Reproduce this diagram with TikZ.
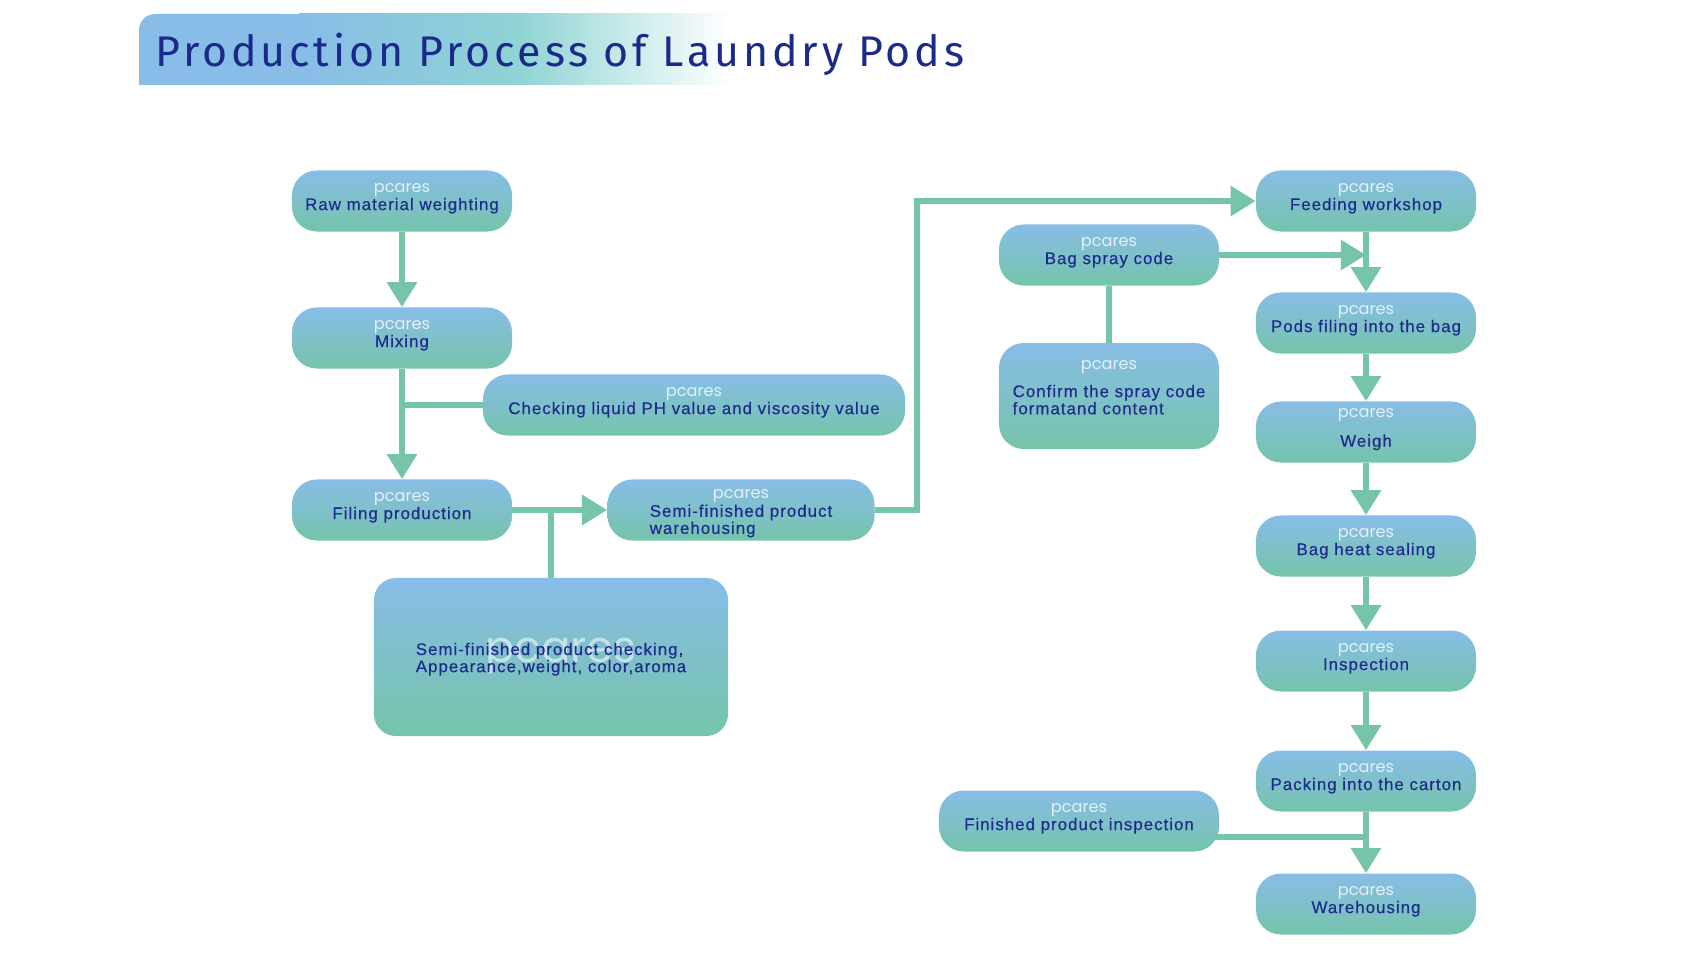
\documentclass[tikz,border=0pt]{standalone}
\usepackage{fontspec}
\setmainfont{Liberation Sans}[LetterSpace=6,FakeBold=0.35]
\newfontfamily\titlefont{Fira Sans}[LetterSpace=9]
\newfontfamily\wmfont{Poppins}
\usetikzlibrary{arrows.meta,positioning}

\definecolor{boxtop}{HTML}{88BDE7}
\definecolor{boxbot}{HTML}{75C4AA}
\definecolor{flowc}{HTML}{77C5A9}
\definecolor{txtc}{HTML}{1E2B8C}
\definecolor{titlec}{HTML}{1B2A8A}
\definecolor{bandteal}{HTML}{8FD3D4}

\renewcommand{\arraystretch}{0.93}
\newcommand{\wm}{{\wmfont\fontsize{11.5}{12}\selectfont\color{white!78!boxtop}pcares}}
\newcommand{\twolines}[1]{\begin{tabular}{@{}l@{}}#1\end{tabular}}

\begin{document}
\begin{tikzpicture}[x=0.025cm,y=-0.025cm,
    box/.style={rounded corners=0.62cm, minimum width=5.5cm, minimum height=1.525cm,
        top color=boxtop, bottom color=boxbot, middle color=boxtop!50!boxbot,
        text=txtc, align=center, inner sep=2pt, text depth=6pt, font=\fontsize{12}{12.5}\selectfont},
    bigbox/.style={box, rounded corners=0.55cm, minimum width=8.85cm, minimum height=3.95cm, text depth=5pt,
        path picture={\node[text=white, opacity=0.55, font=\wmfont\fontsize{31}{31}\selectfont]
            at ([xshift=0.25cm,yshift=0.08cm]path picture bounding box.center) {pcares};}},
    flow/.style={draw=flowc, line width=0.15cm},
    flowa/.style={flow, -{Triangle[length=0.63cm,width=0.73cm]}},
    title/.style={text=titlec, anchor=west, inner sep=0pt, font=\titlefont\fontsize{30.5}{32}\selectfont}]
  \useasboundingbox (0,0) rectangle (1708,966);

  % heading band
  \fill[boxtop, rounded corners=0.4cm] (139,14) rectangle (300,85);
  \fill[boxtop] (139,50) rectangle (300,85);
  \fill[boxtop] (250,14) rectangle (300,85);
  \shade[left color=boxtop, right color=bandteal] (299,14) rectangle (517,85);
  \shade[left color=bandteal, right color=white] (516,14) rectangle (730,85);
  \node[title] (ttl) at (155,54) {Production Process of Laundry Pods};

  % left column
  \node[box] (raw) at (402,201) {\wm\\Raw material weighting};
  \node[box] (mix) at (402,338) {\wm\\Mixing};
  \node[box, minimum width=10.55cm] (chk) at (694,405) {\wm\\Checking liquid PH value and viscosity value};
  \node[box] (fil) at (402,510) {\wm\\Filing production};
  \node[box, minimum width=6.675cm, text depth=3pt] (semi) at (741,510)
      {\wm\\\twolines{Semi-finished product\\warehousing}};
  \node[bigbox] (semichk) at (551,657)
      {\twolines{Semi-finished product checking,\\Appearance,weight, color,aroma}};

  % middle column
  \node[box] (spray) at (1109,255) {\wm\\Bag spray code};
  \node[box, minimum height=2.65cm, text depth=18pt] (conf) at (1109,396)
      {\wm\\[7pt]\twolines{Confirm the spray code\\formatand content}};
  \node[box, minimum width=7cm] (fin) at (1079,821) {\wm\\Finished product inspection};

  % right column
  \node[box] (feed) at (1366,201) {\wm\\Feeding workshop};
  \node[box] (pods) at (1366,323) {\wm\\Pods filing into the bag};
  \node[box] (weigh) at (1366,432) {\wm\\[8pt]Weigh};
  \node[box] (seal) at (1366,546) {\wm\\Bag heat sealing};
  \node[box] (insp) at (1366,661) {\wm\\Inspection};
  \node[box] (pack) at (1366,781) {\wm\\Packing into the carton};
  \node[box] (store) at (1366,904) {\wm\\Warehousing};

  % connectors
  \draw[flowa] (raw) -- (mix);
  \draw[flowa] (mix) -- (fil);
  \draw[flow] (chk.west) -- (chk.west -| mix.south);
  \draw[flowa] (fil) -- (semi);
  \draw[flow] (semichk.north) -- (semichk.north |- fil.east);
  \draw[flowa] (semi.east) -- ++(42,0) |- (feed.west);
  \draw[flow] (spray) -- (conf);
  \draw[flowa] (spray.east) -- (spray.east -| feed.south);
  \draw[flowa] (feed) -- (pods);
  \draw[flowa] (pods) -- (weigh);
  \draw[flowa] (weigh) -- (seal);
  \draw[flowa] (seal) -- (insp);
  \draw[flowa] (insp) -- (pack);
  \draw[flowa] (pack) -- (store);
  \draw[flow] ([xshift=-0.1cm,yshift=-0.4cm]fin.east) -- ([yshift=-0.4cm]fin.east -| pack.south);
\end{tikzpicture}
\end{document}
